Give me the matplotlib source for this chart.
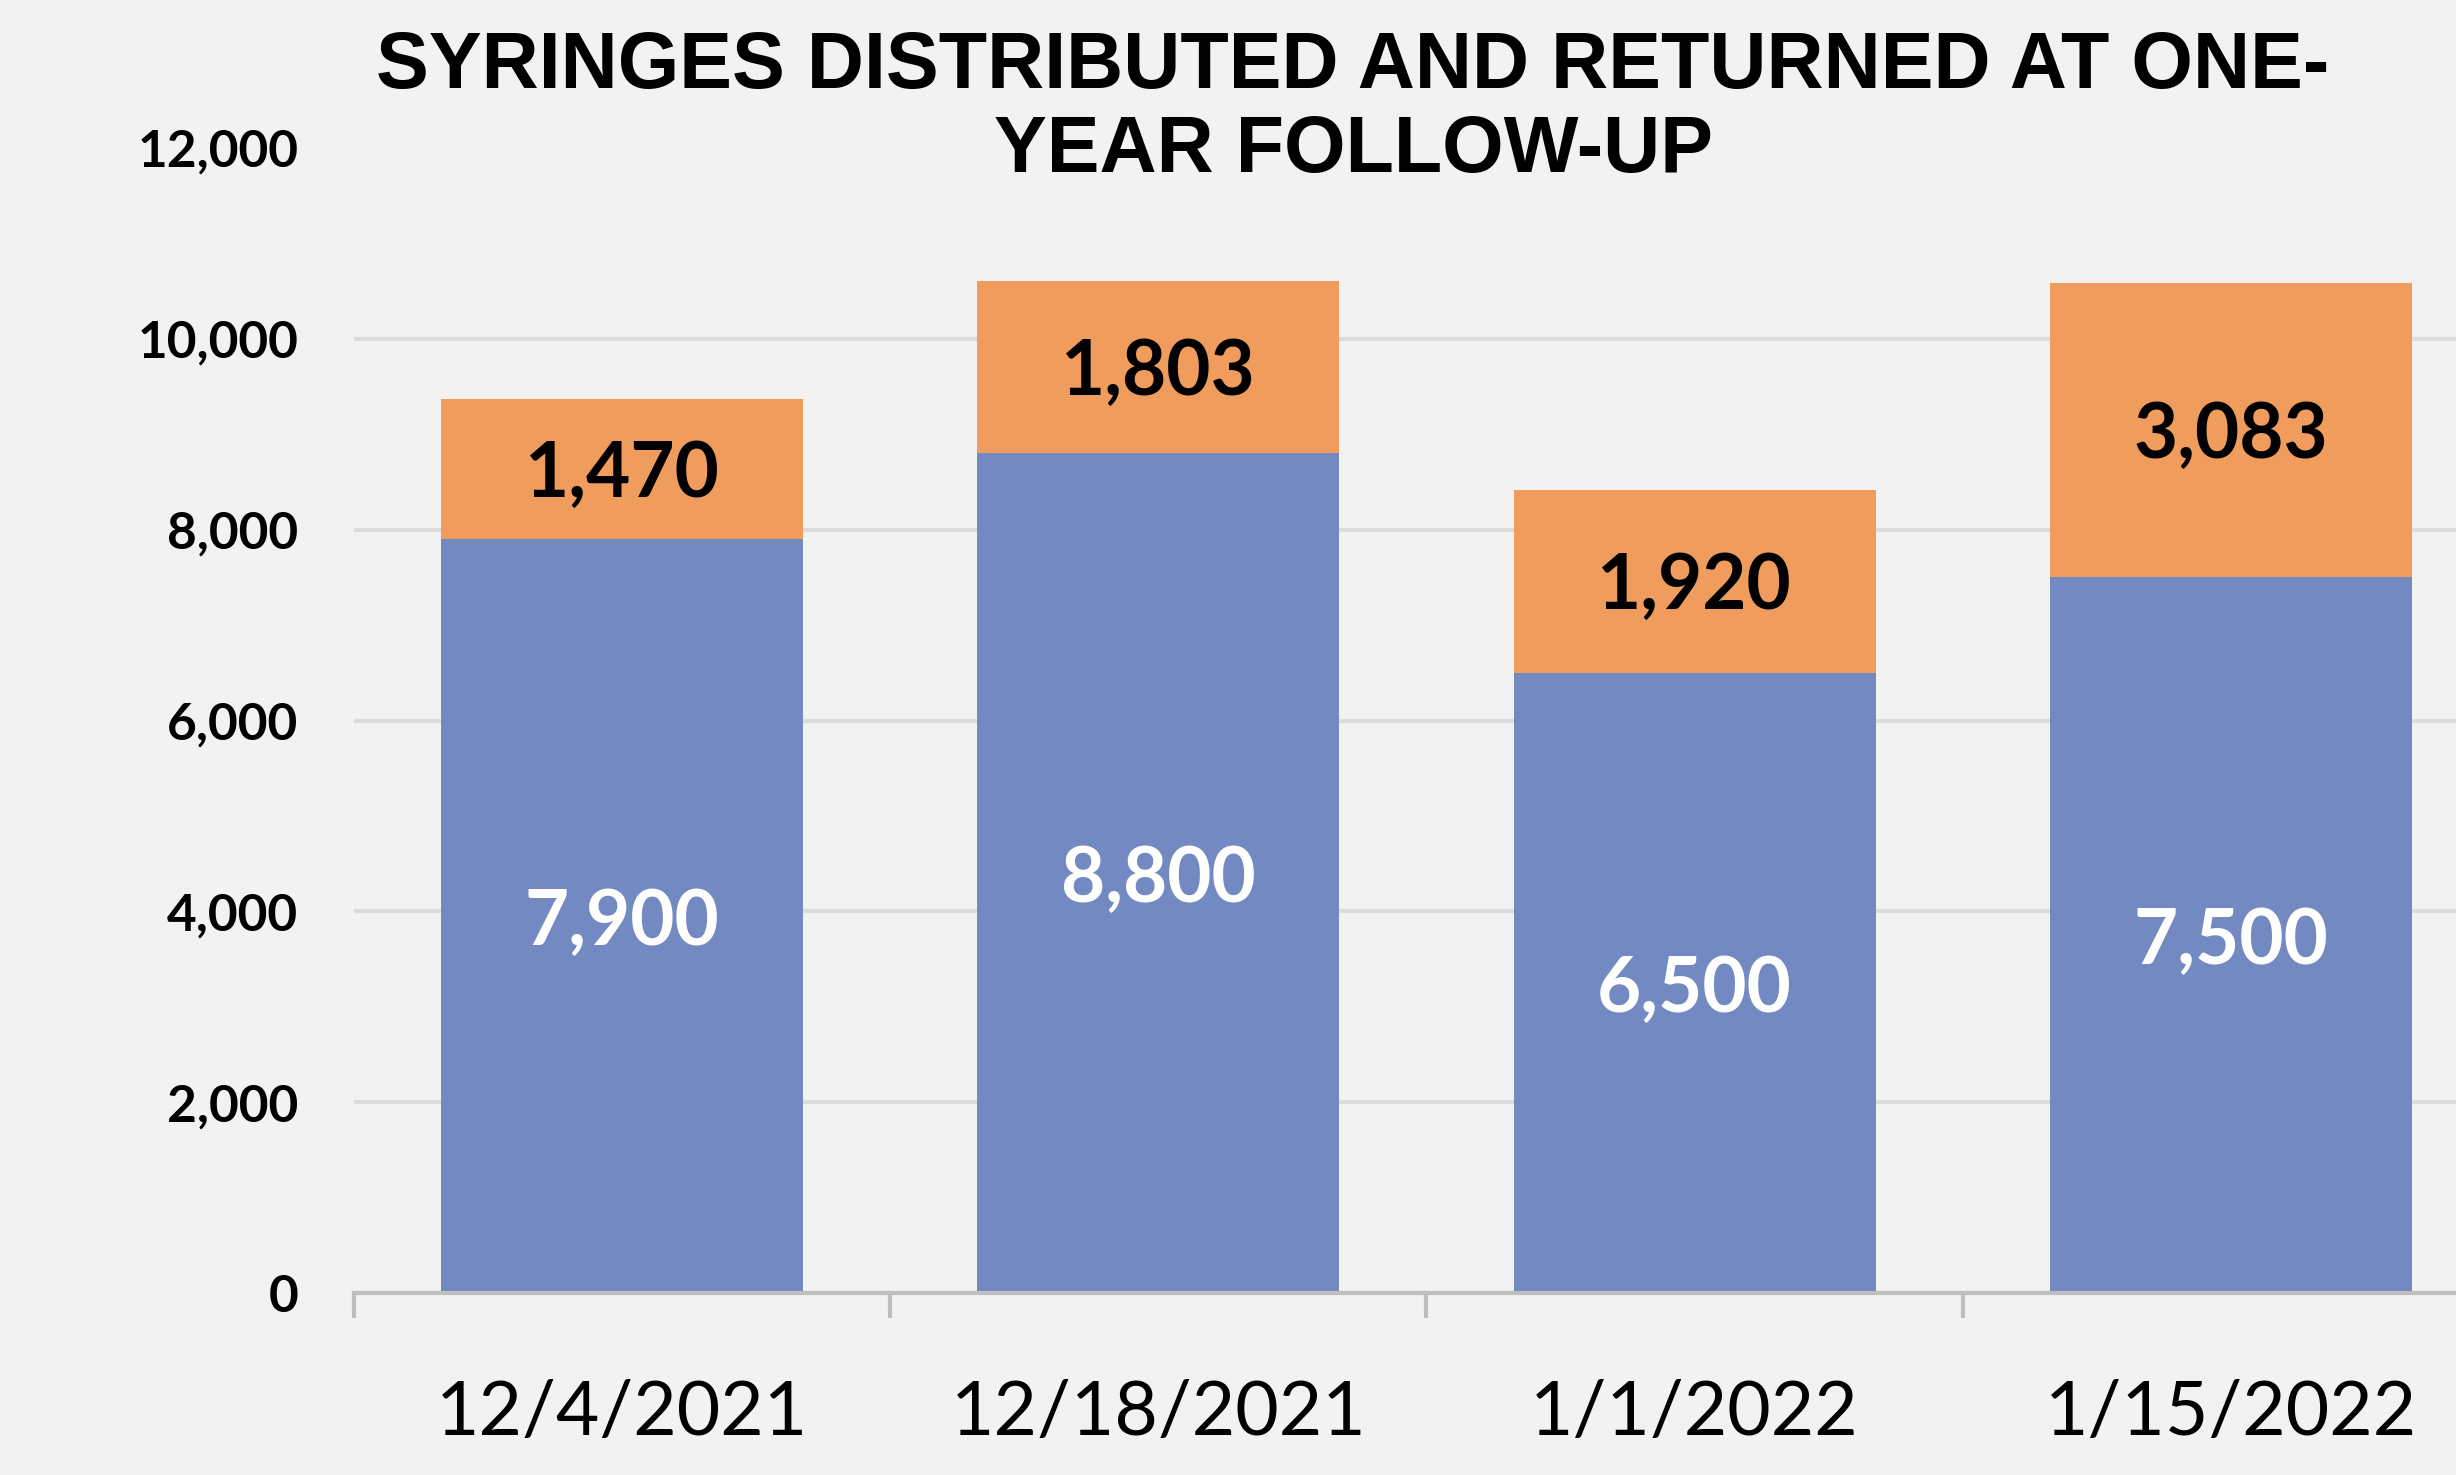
import matplotlib
matplotlib.use("Agg")
import matplotlib.pyplot as plt
from matplotlib.ticker import FuncFormatter, FixedLocator

categories = ["12/4/2021", "12/18/2021", "1/1/2022", "1/15/2022"]
distributed = [7900, 8800, 6500, 7500]
returned = [1470, 1803, 1920, 3083]
yticks = [0, 2000, 4000, 6000, 8000, 10000, 12000]
title = "SYRINGES DISTRIBUTED AND RETURNED AT ONE-\nYEAR FOLLOW-UP"

BG = "#F2F2F2"
BLUE = "#7389C2"
ORANGE = "#F09C5C"

fig = plt.figure(figsize=(24.56, 14.75), dpi=100, facecolor=BG)
ax = fig.add_axes([354/2456, 1 - 1293/1475, 1 - 354/2456, (1293 - 148)/1475])
ax.set_facecolor(BG)

x = list(range(len(categories)))
b1 = ax.bar(x, distributed, width=0.675, color=BLUE, zorder=2)
b2 = ax.bar(x, returned, width=0.675, bottom=distributed, color=ORANGE, zorder=2)

for i in x:
    ax.annotate(f"{distributed[i]:,}", (i, distributed[i] / 2), xytext=(0, -5),
                textcoords="offset points", ha="center", va="center",
                color="white", fontsize=55, fontweight="bold", family="Lato", zorder=3)
    ax.annotate(f"{returned[i]:,}", (i, distributed[i] + returned[i] / 2), xytext=(0, -4),
                textcoords="offset points", ha="center", va="center",
                color="black", fontsize=55, fontweight="bold", family="Lato", zorder=3)

ax.set_xlim(-0.5, 3.42)
ax.set_ylim(0, 12000)
ax.yaxis.set_major_locator(FixedLocator(yticks))
ax.yaxis.set_major_formatter(FuncFormatter(lambda v, p: f"{int(v):,}"))
ax.yaxis.grid(True, color="#DCDCDC", linewidth=3, zorder=0)
ax.set_axisbelow(True)
for gl in ax.yaxis.get_gridlines()[-1:]:
    gl.set_visible(False)
ax.tick_params(axis="y", length=0, pad=40)
for lab in ax.get_yticklabels():
    lab.set_family("Lato")
    lab.set_fontweight("bold")
    lab.set_fontsize(37)

ax.set_xticks(x)
ax.set_xticklabels(categories, family="Lato", fontsize=54)
ax.set_xticks([-0.5, 0.5, 1.5, 2.5], minor=True)
ax.tick_params(axis="x", which="major", length=0, pad=62)
ax.tick_params(axis="x", which="minor", length=18, width=3, color="#BFBFBF", direction="out")

for s in ["top", "right", "left"]:
    ax.spines[s].set_visible(False)
ax.spines["bottom"].set_color("#BFBFBF")
ax.spines["bottom"].set_linewidth(3)

fig.text(1353/2456, 1 - 30/1475, title, ha="center", va="top", fontsize=57,
         fontweight="bold", family="Liberation Sans", linespacing=1.16)

fig.savefig("out.png", dpi=100, facecolor=BG)
